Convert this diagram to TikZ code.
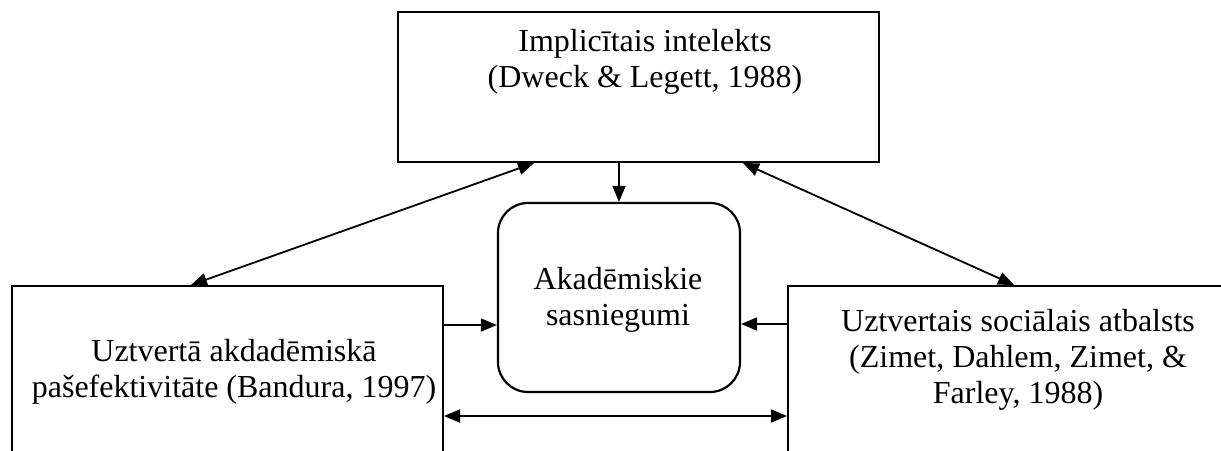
\documentclass[tikz,border=0pt]{standalone}
\usepackage{fontspec}
\setmainfont{Liberation Serif}
\usetikzlibrary{arrows.meta,calc}
\begin{document}
\begin{tikzpicture}[x=0.5pt,y=-0.5pt,
  box/.style={draw,line width=1pt,inner sep=0pt},
  roundbox/.style={draw,line width=1.1pt,rounded corners=15pt,inner sep=0pt},
  label/.style={align=center,inner sep=0pt,font=\fontsize{16}{18}\selectfont},
  tip/.style={Triangle[length=8pt,width=6.5pt]},
  arr/.style={line width=0.9pt,-{Triangle[length=8pt,width=6.5pt]}},
  dbl/.style={line width=0.9pt,{Triangle[length=8pt,width=6.5pt]}-{Triangle[length=8pt,width=6.5pt]}}]
  \path[use as bounding box,clip] (0,0) rectangle (1221,450);
  % boxes
  \node[box,minimum width=240.5pt,minimum height=75pt] (top) at (638.5,87) {};
  \node[roundbox,minimum width=121pt,minimum height=94.5pt] (center) at (619,297.5) {};
  \node[box,minimum width=215.5pt,minimum height=100pt] (lbox) at (227.5,386) {};
  \node[box,minimum width=226pt,minimum height=100pt] (rbox) at (1014,386) {};
  % texts
  \node[label] (ttop) at (645,62) {Implicītais intelekts\\(Dweck \& Legett, 1988)};
  \node[label] (tcenter) at (618,300) {Akadēmiskie\\sasniegumi};
  \node[label] (tleft) at (234,372) {Uztvertā akdadēmiskā\\pašefektivitāte (Bandura, 1997)};
  \node[label] (tright) at (1018,360) {Uztvertais sociālais atbalsts\\(Zimet, Dahlem, Zimet, \&\\Farley, 1988)};
  % attachment points
  \coordinate (cl) at ($(center.west)+(0,27.5)$);
  \coordinate (cr) at ($(center.east)+(0,26.5)$);
  \coordinate (bl) at (615,416);
  % connectors
  \draw[arr] (center.north |- top.south) -- (center.north);
  \draw[dbl] ($(top.south west)+(137,0)$) -- ($(lbox.north west)+(180,0)$);
  \draw[dbl] ($(top.south east)+(-137,0)$) -- ($(rbox.north west)+(227,0)$);
  \draw[arr] (lbox.east |- cl) -- (cl);
  \draw[arr] (rbox.west |- cr) -- (cr);
  \draw[dbl] (lbox.east |- bl) -- (rbox.west |- bl);
\end{tikzpicture}
\end{document}
